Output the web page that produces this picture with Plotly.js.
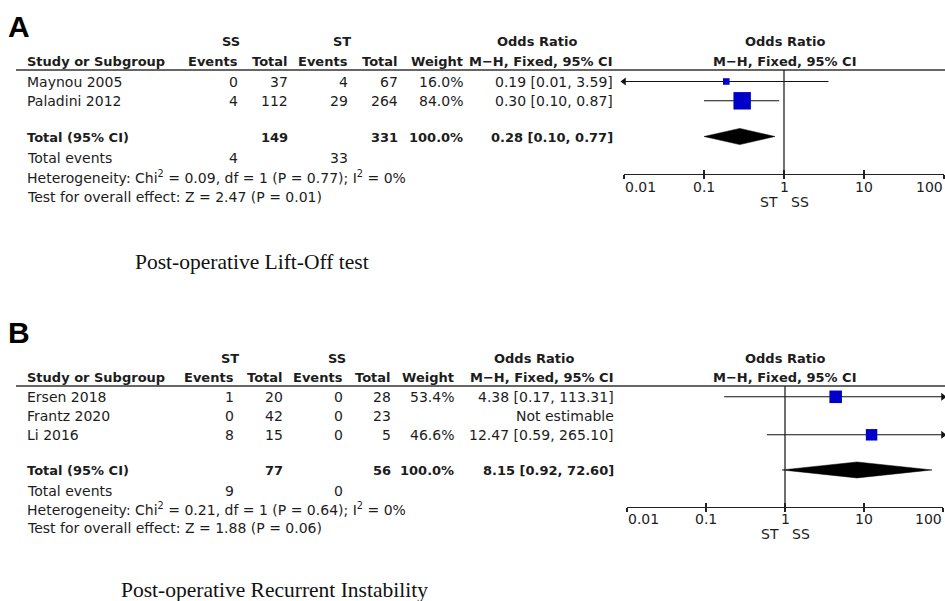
<!DOCTYPE html>
<html>
<head>
<meta charset="utf-8">
<script src="https://cdn.plot.ly/plotly-3.0.1.min.js"></script>
<style>
html,body{margin:0;padding:0;background:#fff;overflow:hidden;}
#chart{width:945px;height:601px;}
</style>
</head>
<body>
<div id="chart"></div>
<script>
// ---------------- DATA ----------------
// Panel A: Post-operative Lift-Off test (SS vs ST)
var studiesA = ['Maynou 2005', 'Paladini 2012'];
var ssEventsA = [0, 4];
var ssTotalA = [37, 112];
var stEventsA = [4, 29];
var stTotalA = [67, 264];
var weightA = [16.0, 84.0];
var orA = [0.19, 0.30];
var lowA = [0.01, 0.10];
var highA = [3.59, 0.87];
var totalA = {ss: 149, st: 331, ssEvents: 4, stEvents: 33, or: 0.28, low: 0.10, high: 0.77};
var hetA = {chi2: 0.09, df: 1, p: 0.77, i2: 0, z: 2.47, pz: 0.01};
var captionA = 'Post-operative Lift-Off test';

// Panel B: Post-operative Recurrent Instability (ST vs SS)
var studiesB = ['Ersen 2018', 'Frantz 2020', 'Li 2016'];
var stEventsB = [1, 0, 8];
var stTotalB = [20, 42, 15];
var ssEventsB = [0, 0, 0];
var ssTotalB = [28, 23, 5];
var weightB = [53.4, null, 46.6];
var orB = [4.38, null, 12.47];
var lowB = [0.17, null, 0.59];
var highB = [113.31, null, 265.10];
var totalB = {st: 77, ss: 56, stEvents: 9, ssEvents: 0, or: 8.15, low: 0.92, high: 72.60};
var hetB = {chi2: 0.21, df: 1, p: 0.64, i2: 0, z: 1.88, pz: 0.06};
var captionB = 'Post-operative Recurrent Instability';

var tickVals = [0.01, 0.1, 1, 10, 100];
var tickText = ['0.01', '0.1', '1', '10', '100'];
var favours = ['ST', 'SS'];

// ---------------- HELPERS ----------------
var W = 945, H = 601;
function px(x){ return x / W; }
function py(y){ return 1 - y / H; }
var FONT = 'DejaVu Sans, Verdana, sans-serif';
var TXT = '#1c1c1c';
var FS = 14, FSB = 13;
var annotations = [];
var shapes = [];
function T(text, x, y, anchor, bold, extra){
  var a = {
    text: bold ? '<b>' + text + '</b>' : text,
    xref: 'paper', yref: 'paper', x: px(x), y: py(y),
    xanchor: anchor, yanchor: 'middle', showarrow: false, borderpad: 0,
    xshift: anchor === 'left' ? -2 : (anchor === 'right' ? 2 : 0),
    font: {family: FONT, size: bold ? FSB : FS, color: TXT}
  };
  if (extra) for (var k in extra) a[k] = extra[k];
  annotations.push(a);
}
function fmtCI(o, l, h){ return o.toFixed(2) + ' [' + l.toFixed(2) + ', ' + h.toFixed(2) + ']'; }
function hline(x0, x1, y){
  shapes.push({type: 'line', xref: 'paper', yref: 'paper', x0: px(x0), x1: px(x1), y0: py(y), y1: py(y),
               line: {color: '#333', width: 1.6}});
}
var XMIN = 0.01, XMAX = 100;
var traces = [];

function forest(p){
  var xa = p.xa, ya = p.ya;
  var lx = [], ly = [], lax = [], lay = [], rax = [], ray = [];
  var sx = [], sy = [], ss = [];
  for (var i = 0; i < p.or.length; i++){
    if (p.or[i] === null) continue;
    var lo = Math.max(p.low[i], XMIN), hi = Math.min(p.high[i], XMAX);
    lx.push(lo, hi, null); ly.push(i, i, null);
    if (p.low[i] <= XMIN){ lax.push(XMIN); lay.push(i); }
    if (p.high[i] >= XMAX){ rax.push(XMAX); ray.push(i); }
    sx.push(p.or[i]); sy.push(i); ss.push(4 + 0.16 * p.weight[i]);
  }
  traces.push({x: lx, y: ly, xaxis: xa, yaxis: ya, mode: 'lines', line: {color: '#111', width: 1.1},
     hoverinfo: 'skip', cliponaxis: false});
  if (lax.length) traces.push({x: lax, y: lay, xaxis: xa, yaxis: ya, mode: 'markers', cliponaxis: false,
     marker: {symbol: 'triangle-left', size: 7, color: '#111', opacity: 1}, hoverinfo: 'skip'});
  if (rax.length) traces.push({x: rax, y: ray, xaxis: xa, yaxis: ya, mode: 'markers', cliponaxis: false,
     marker: {symbol: 'triangle-right', size: 7, color: '#111', opacity: 1}, hoverinfo: 'skip'});
  traces.push({x: sx, y: sy, xaxis: xa, yaxis: ya, mode: 'markers', opacity: 1,
     marker: {symbol: 'square', size: ss, color: '#0000c8', opacity: 1, line: {width: 0}}, hoverinfo: 'skip'});
  var r = p.or.length + 0.85, h = 0.42;
  traces.push({x: [p.total.low, p.total.or, p.total.high, p.total.or, p.total.low],
     y: [r, r - h, r, r + h, r], xaxis: xa, yaxis: ya, mode: 'lines', fill: 'toself',
     fillcolor: '#000', line: {color: '#000', width: 0.5}, hoverinfo: 'skip'});
  traces.push({x: [], y: [], xaxis: p.xo, yaxis: ya, mode: 'markers', hoverinfo: 'skip'});
  shapes.push({type: 'line', xref: xa, yref: ya + ' domain', x0: 1, x1: 1, y0: 0, y1: 1,
               line: {color: '#222', width: 1.3}});
  for (var t = 0; t < tickVals.length; t++){
    var anc = t === 0 ? 'left' : (t === tickVals.length - 1 ? 'right' : 'center');
    annotations.push({text: tickText[t], xref: xa, yref: 'paper', x: Math.log10(tickVals[t]), y: py(p.tickY),
      xanchor: anc, yanchor: 'middle', showarrow: false, borderpad: 0, xshift: 0,
      font: {family: FONT, size: FS, color: TXT}});
  }
  annotations.push({text: favours[0], xref: xa, yref: 'paper', x: 0, y: py(p.tickY + 15), xanchor: 'right',
     xshift: -5, yanchor: 'middle', showarrow: false, borderpad: 0, font: {family: FONT, size: FS, color: TXT}});
  annotations.push({text: favours[1], xref: xa, yref: 'paper', x: 0, y: py(p.tickY + 15), xanchor: 'left',
     xshift: 6, yanchor: 'middle', showarrow: false, borderpad: 0, font: {family: FONT, size: FS, color: TXT}});
}

// ---------------- PANEL A TABLE ----------------
var LETTER = {family: 'Liberation Sans, Arial, sans-serif', size: 30, color: '#000'};
var CAP = {family: 'Liberation Serif, Times New Roman, serif', size: 21.5, color: '#111'};
T('A', 9, 27, 'left', true, {font: LETTER});
T('SS', 231, 42, 'center', true);
T('ST', 342, 42, 'center', true);
T('Odds Ratio', 537, 42, 'center', true);
T('Odds Ratio', 785, 42, 'center', true);
T('Study or Subgroup', 28, 61, 'left', true);
T('Events', 237, 61, 'right', true);
T('Total', 287, 61, 'right', true);
T('Events', 347, 61, 'right', true);
T('Total', 397, 61, 'right', true);
T('Weight', 462, 61, 'right', true);
T('M\u2212H, Fixed, 95% CI', 612, 61, 'right', true);
T('M\u2212H, Fixed, 95% CI', 785, 61, 'center', true);
hline(16, 945, 70);
var rowA0 = 81.5, stepA = 19.3;
for (var i = 0; i < studiesA.length; i++){
  var yy = rowA0 + stepA * i;
  T(studiesA[i], 28, yy, 'left');
  T(String(ssEventsA[i]), 237, yy, 'right');
  T(String(ssTotalA[i]), 287, yy, 'right');
  T(String(stEventsA[i]), 347, yy, 'right');
  T(String(stTotalA[i]), 397, yy, 'right');
  T(weightA[i].toFixed(1) + '%', 462, yy, 'right');
  T(fmtCI(orA[i], lowA[i], highA[i]), 612, yy, 'right');
}
T('Total (95% CI)', 28, 137, 'left', true);
T(String(totalA.ss), 287, 137, 'right', true);
T(String(totalA.st), 397, 137, 'right', true);
T('100.0%', 462, 137, 'right', true);
T(fmtCI(totalA.or, totalA.low, totalA.high), 612, 137, 'right', true);
T('Total events', 28, 158, 'left');
T(String(totalA.ssEvents), 237, 158, 'right');
T(String(totalA.stEvents), 347, 158, 'right');
T('Heterogeneity: Chi<sup>2</sup> = ' + hetA.chi2.toFixed(2) + ', df = ' + hetA.df + ' (P = ' + hetA.p.toFixed(2) +
  '); I<sup>2</sup> = ' + hetA.i2 + '%', 28, 177, 'left');
T('Test for overall effect: Z = ' + hetA.z.toFixed(2) + ' (P = ' + hetA.pz.toFixed(2) + ')', 28, 197, 'left');
T(captionA, 252, 262, 'center', false, {font: CAP});

// ---------------- PANEL B TABLE ----------------
T('B', 9, 333, 'left', true, {font: LETTER});
T('ST', 230, 358, 'center', true);
T('SS', 337, 358, 'center', true);
T('Odds Ratio', 534, 358, 'center', true);
T('Odds Ratio', 785, 358, 'center', true);
T('Study or Subgroup', 28, 377, 'left', true);
T('Events', 233, 377, 'right', true);
T('Total', 282, 377, 'right', true);
T('Events', 342, 377, 'right', true);
T('Total', 390, 377, 'right', true);
T('Weight', 453, 377, 'right', true);
T('M\u2212H, Fixed, 95% CI', 613, 377, 'right', true);
T('M\u2212H, Fixed, 95% CI', 785, 377, 'center', true);
hline(16, 945, 386);
var rowB0 = 396.8, stepB = 19;
for (var j = 0; j < studiesB.length; j++){
  var yb = rowB0 + stepB * j;
  T(studiesB[j], 28, yb, 'left');
  T(String(stEventsB[j]), 233, yb, 'right');
  T(String(stTotalB[j]), 282, yb, 'right');
  T(String(ssEventsB[j]), 342, yb, 'right');
  T(String(ssTotalB[j]), 390, yb, 'right');
  if (weightB[j] !== null) T(weightB[j].toFixed(1) + '%', 453, yb, 'right');
  T(orB[j] === null ? 'Not estimable' : fmtCI(orB[j], lowB[j], highB[j]), 613, yb, 'right');
}
T('Total (95% CI)', 28, 470, 'left', true);
T(String(totalB.st), 282, 470, 'right', true);
T(String(totalB.ss), 390, 470, 'right', true);
T('100.0%', 453, 470, 'right', true);
T(fmtCI(totalB.or, totalB.low, totalB.high), 613, 470, 'right', true);
T('Total events', 28, 491, 'left');
T(String(totalB.stEvents), 233, 491, 'right');
T(String(totalB.ssEvents), 342, 491, 'right');
T('Heterogeneity: Chi<sup>2</sup> = ' + hetB.chi2.toFixed(2) + ', df = ' + hetB.df + ' (P = ' + hetB.p.toFixed(2) +
  '); I<sup>2</sup> = ' + hetB.i2 + '%', 28, 509, 'left');
T('Test for overall effect: Z = ' + hetB.z.toFixed(2) + ' (P = ' + hetB.pz.toFixed(2) + ')', 28, 528, 'left');
T(captionB, 274, 590, 'center', false, {font: CAP});

// ---------------- FOREST PLOTS ----------------
forest({xa: 'x', ya: 'y', xo: 'x3', or: orA, low: lowA, high: highA, weight: weightA, total: totalA, tickY: 187});
forest({xa: 'x2', ya: 'y2', xo: 'x4', or: orB, low: lowB, high: highB, weight: weightB, total: totalB, tickY: 519});

function xAxis(d0, d1, anchor){
  return {type: 'log', domain: [px(d0), px(d1)], range: [-2, 2], anchor: anchor,
          showline: true, linecolor: '#222', linewidth: 1.3, ticks: 'outside', ticklen: 4, tickwidth: 1.2,
          tickcolor: '#222', tickvals: tickVals, showticklabels: false, showgrid: false, zeroline: false, fixedrange: true};
}
function xOver(over, anchor){
  return {type: 'log', overlaying: over, range: [-2, 2], anchor: anchor, showline: false,
          ticks: 'inside', ticklen: 4, tickwidth: 1.2, tickcolor: '#222', tickvals: tickVals,
          showticklabels: false, showgrid: false, zeroline: false, fixedrange: true};
}
var yA = {domain: [py(174), py(70)], range: [(174 - rowA0) / stepA, (70 - rowA0) / stepA], visible: false, fixedrange: true};
var yB = {domain: [py(507), py(386)], range: [(507 - rowB0) / stepB, (386 - rowB0) / stepB], visible: false, fixedrange: true};

var layout = {
  width: W, height: H, margin: {l: 0, r: 0, t: 0, b: 0},
  paper_bgcolor: '#fff', plot_bgcolor: 'rgba(0,0,0,0)', showlegend: false,
  xaxis: xAxis(624, 944, 'y'),
  xaxis2: xAxis(627, 943, 'y2'),
  xaxis3: xOver('x', 'y'),
  xaxis4: xOver('x2', 'y2'),
  yaxis: yA, yaxis2: yB,
  shapes: shapes, annotations: annotations
};
Plotly.newPlot('chart', traces, layout, {displayModeBar: false, staticPlot: true});
</script>
</body>
</html>
